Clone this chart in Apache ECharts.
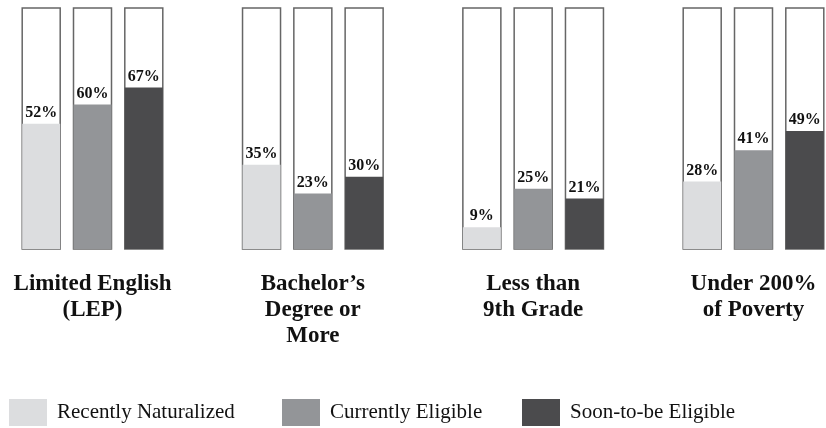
<!DOCTYPE html>
<html>
<head>
<meta charset="utf-8">
<script src="https://cdn.jsdelivr.net/npm/echarts@6/dist/echarts.min.js"></script>
<style>html,body{margin:0;padding:0;background:#fff;}#chart{width:826px;height:428px;}</style>
</head>
<body>
<div id="chart"></div>
<script>
const categories = ['Limited English\n(LEP)', 'Bachelor\u2019s\nDegree or\nMore', 'Less than\n9th Grade', 'Under 200%\nof Poverty'];
const seriesNames = ['Recently Naturalized', 'Currently Eligible', 'Soon-to-be Eligible'];
const recentlyNaturalized = [52, 35, 9, 28];
const currentlyEligible = [60, 23, 25, 41];
const soonToBeEligible = [67, 30, 21, 49];
const colors = ['#dcdddf', '#939598', '#4b4b4d'];
const values = [recentlyNaturalized, currentlyEligible, soonToBeEligible];
const fontFam = '"Liberation Serif", "DejaVu Serif", serif';

const chart = echarts.init(document.getElementById('chart'));
chart.setOption({
  animation: false,
  grid: { left: 92.5, right: 72.5, top: 8, bottom: 179 },
  xAxis: {
    type: 'category',
    boundaryGap: false,
    data: categories,
    axisLine: { show: false },
    axisTick: { show: false },
    splitLine: { show: false },
    axisLabel: {
      margin: 22,
      fontFamily: fontFam,
      fontWeight: 'bold',
      fontSize: 23,
      lineHeight: 26,
      color: '#111'
    }
  },
  yAxis: { type: 'value', min: 0, max: 100, show: false },
  legend: seriesNames.map((n, i) => ({
    data: [n],
    left: [9, 282, 522][i],
    top: 399,
    padding: 0,
    icon: 'rect',
    itemWidth: 38,
    itemHeight: 27,
    selectedMode: false,
    textStyle: { fontFamily: fontFam, fontSize: 21, color: '#111', padding: [3, 0, 0, 5] }
  })),
  series: seriesNames.map((n, i) => ({
    name: n,
    type: 'bar',
    clip: false,
    data: values[i],
    barWidth: 38,
    barGap: '35%',
    itemStyle: { color: colors[i] },
    showBackground: true,
    backgroundStyle: { color: '#fff', borderColor: '#666', borderWidth: 1.5 },
    label: {
      show: true,
      position: 'top',
      distance: 3,
      formatter: '{c}%',
      fontFamily: fontFam,
      fontWeight: 'bold',
      fontSize: 16,
      color: '#111'
    }
  }))
});
</script>
</body>
</html>
